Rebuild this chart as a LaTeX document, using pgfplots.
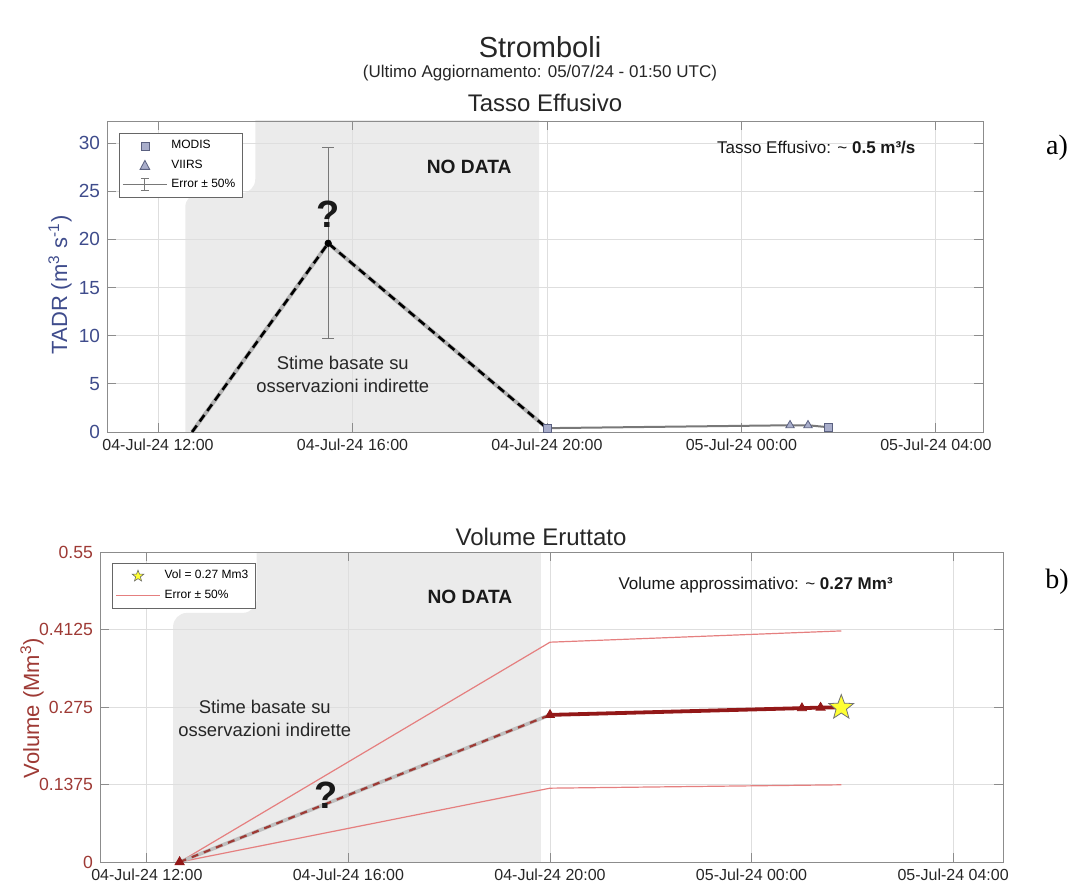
\documentclass[border=0pt]{standalone}
\usepackage{fontspec}
\setmainfont{Liberation Sans}
\newfontfamily\seriffont{Liberation Serif}
\usepackage{pgfplots}
\pgfplotsset{compat=1.18}
\usetikzlibrary{plotmarks}
\definecolor{tadrblue}{HTML}{3F4C8C}
\definecolor{volred}{HTML}{9E3A35}
\definecolor{errred}{HTML}{E57F7F}
\definecolor{thickred}{HTML}{931818}
\definecolor{shadegray}{HTML}{EBEBEB}
\definecolor{gridgray}{HTML}{DEDEDE}
\definecolor{axgray}{HTML}{8C8C8C}
\definecolor{linegray}{HTML}{787878}
\definecolor{modisfill}{HTML}{A9AECB}
\definecolor{modisdraw}{HTML}{5A6080}
\definecolor{staryellow}{HTML}{FFFF33}
\pgfdeclareplotmark{fstar}{%
  \pgfpathmoveto{\pgfpointpolar{90}{\pgfplotmarksize}}%
  \pgfpathlineto{\pgfpointpolar{126}{0.42\pgfplotmarksize}}%
  \pgfpathlineto{\pgfpointpolar{162}{\pgfplotmarksize}}%
  \pgfpathlineto{\pgfpointpolar{198}{0.42\pgfplotmarksize}}%
  \pgfpathlineto{\pgfpointpolar{234}{\pgfplotmarksize}}%
  \pgfpathlineto{\pgfpointpolar{270}{0.42\pgfplotmarksize}}%
  \pgfpathlineto{\pgfpointpolar{306}{\pgfplotmarksize}}%
  \pgfpathlineto{\pgfpointpolar{342}{0.42\pgfplotmarksize}}%
  \pgfpathlineto{\pgfpointpolar{18}{\pgfplotmarksize}}%
  \pgfpathlineto{\pgfpointpolar{54}{0.42\pgfplotmarksize}}%
  \pgfpathclose\pgfusepathqfillstroke}
\pgfplotsset{mystyle/.style={
  scale only axis, set layers,
  axis line style={draw=axgray},
  tick style={axgray, thin},
  major tick length=4.5pt,
  tick align=inside,
  xtick={12,16,20,24,28},
  xticklabels={04-Jul-24 12:00,04-Jul-24 16:00,04-Jul-24 20:00,05-Jul-24 00:00,05-Jul-24 04:00},
  grid=major, grid style={gridgray, line width=0.4pt},
  x tick label style={font=\fontsize{8}{9}\selectfont, text=black!85},
  /pgf/number format/assume math mode=true,
  legend cell align=left,
  legend style={font=\fontsize{6}{7}\selectfont, draw=black!60, fill=white, inner sep=1.5pt, row sep=0pt},
}}
\begin{document}
\begin{tikzpicture}
% titles
\node[font=\fontsize{14.5}{16}\selectfont, text=black!85] at (270pt,422pt) {Stromboli};
\node[font=\fontsize{8.5}{10}\selectfont, text=black!85] at (270pt,409pt) {(Ultimo Aggiornamento: 05/07/24 - 01:50 UTC)};
\node[font=\fontsize{12}{14}\selectfont, text=black!85] at (272.5pt,394pt) {Tasso Effusivo};
\node[font=\fontsize{12}{14}\selectfont, text=black!85] at (270.5pt,177pt) {Volume Eruttato};
\node[font=\seriffont\fontsize{14}{16}\selectfont] at (528.5pt,371.5pt) {a)};
\node[font=\seriffont\fontsize{14}{16}\selectfont] at (528.5pt,154.5pt) {b)};
\node[rotate=90, text=tadrblue, font=\fontsize{11}{12}\selectfont] at (30pt,303pt) {TADR (m\textsuperscript{3} s\textsuperscript{-1})};
\node[rotate=90, text=volred, font=\fontsize{11}{12}\selectfont] at (16pt,91.5pt) {Volume (Mm\textsuperscript{3})};

% ---------- top axis ----------
\begin{axis}[mystyle,
  at={(53.5pt,229.5pt)}, anchor=south west,
  width=438pt, height=155.5pt,
  xmin=10.95, xmax=28.97, ymin=0, ymax=32.3,
  ytick={0,5,10,15,20,25,30},
  y tick label style={font=\fontsize{9.5}{10}\selectfont, text=tadrblue},
  legend style={at={(0.0137,0.961)}, anchor=north west},
]
\begin{pgfonlayer}{axis background}
\begin{scope}
\clip (rel axis cs:0,0) rectangle (rel axis cs:1,1);
\fill[shadegray, rounded corners=7pt] (axis cs:12.56,-3) -- (axis cs:12.56,24.8) -- (axis cs:14.0,24.8) -- (axis cs:14.0,36) -- (axis cs:19.84,36) -- (axis cs:19.84,-3) -- cycle;
\end{scope}
\end{pgfonlayer}
\addlegendimage{legend image code/.code={\filldraw[draw=modisdraw, fill=modisfill, line width=0.4pt] (9pt,-2pt) rectangle (13pt,2pt);}}
\addlegendentry{MODIS}
\addlegendimage{legend image code/.code={\filldraw[draw=modisdraw, fill=modisfill, line width=0.4pt] (11pt,2.6pt) -- (8.6pt,-1.9pt) -- (13.4pt,-1.9pt) -- cycle;}}
\addlegendentry{VIIRS}
\addlegendimage{legend image code/.code={\draw[linegray, line width=0.5pt] (0pt,0pt) -- (22pt,0pt); \draw[linegray, line width=0.5pt] (11pt,-3pt) -- (11pt,3pt); \draw[linegray, line width=0.5pt] (9pt,3pt) -- (13pt,3pt); \draw[linegray, line width=0.5pt] (9pt,-3pt) -- (13pt,-3pt);}}
\addlegendentry{Error ± 50\%}
% error bar
\addplot[linegray, line width=0.5pt, mark=none, forget plot,
  error bars/.cd, y dir=both, y explicit,
  error bar style={linegray, line width=0.5pt},
  error mark options={rotate=90, mark size=3pt, linegray, line width=0.5pt}]
  coordinates {(15.5,19.6) +- (0,9.9)};
% dashed estimate
\addplot[black!30, line width=2pt, forget plot] coordinates {(12.7,0) (15.5,19.6) (20,0.4)};
\addplot[black, line width=1.3pt, dash pattern=on 4pt off 2.5pt, forget plot] coordinates {(12.7,0) (15.5,19.6) (20,0.4)};
\addplot[only marks, mark=*, mark size=1.6pt, black, forget plot] coordinates {(15.5,19.6)};
% observed
\addplot[linegray, line width=1pt, forget plot] coordinates {(20,0.4) (25.0,0.7) (25.37,0.7) (25.78,0.5)};
\addplot[only marks, mark=square*, mark size=2pt, mark options={draw=modisdraw, fill=modisfill, line width=0.4pt}, forget plot] coordinates {(20,0.4) (25.78,0.5)};
\addplot[only marks, mark=triangle*, mark size=2.4pt, mark options={draw=modisdraw, fill=modisfill, line width=0.4pt}, forget plot] coordinates {(25.0,0.7) (25.37,0.7)};
% annotations
\node[font=\bfseries\fontsize{9.6}{11}\selectfont, text=black!90] at (axis cs:18.4,27.5) {NO DATA};
\node[font=\bfseries\fontsize{19}{20}\selectfont, text=black!90] at (axis cs:15.5,22.6) {?};
\node[font=\fontsize{9.2}{11.5}\selectfont, text=black!85, align=center] at (axis cs:15.8,6.0) {Stime basate su\\osservazioni indirette};
\node[font=\fontsize{8.5}{10}\selectfont, text=black!90] at (axis cs:25.54,29.5) {Tasso Effusivo: \textasciitilde\ \textbf{0.5 m³/s}};
\end{axis}

% ---------- bottom axis ----------
\begin{axis}[mystyle,
  at={(50pt,14.5pt)}, anchor=south west,
  width=451.5pt, height=155pt,
  xmin=11.07, xmax=28.99, ymin=0, ymax=0.55,
  ytick={0,0.1375,0.275,0.4125,0.55},
  yticklabels={0,0.1375,0.275,0.4125,0.55},
  y tick label style={font=\fontsize{8.8}{10}\selectfont, text=volred},
  legend style={at={(0.0133,0.965)}, anchor=north west},
]
\begin{pgfonlayer}{axis background}
\begin{scope}
\clip (rel axis cs:0,0) rectangle (rel axis cs:1,1);
\fill[shadegray, rounded corners=7pt] (axis cs:12.52,-0.05) -- (axis cs:12.52,0.442) -- (axis cs:14.18,0.442) -- (axis cs:14.18,0.6) -- (axis cs:19.82,0.6) -- (axis cs:19.82,-0.05) -- cycle;
\end{scope}
\end{pgfonlayer}
\addlegendimage{legend image code/.code={\draw[mark=fstar, mark size=3pt, mark options={fill=staryellow, draw=black!60, line width=0.3pt}] plot coordinates {(11pt,0pt)};}}
\addlegendentry{Vol = 0.27 Mm3}
\addlegendimage{legend image code/.code={\draw[errred, line width=0.6pt] (0pt,0pt) -- (22pt,0pt);}}
\addlegendentry{Error ± 50\%}
% error envelope
\addplot[errred, line width=0.6pt, forget plot] coordinates {(12.65,0) (20,0.39) (25.78,0.41)};
\addplot[errred, line width=0.6pt, forget plot] coordinates {(12.65,0) (20,0.131) (25.78,0.137)};
% estimate
\addplot[black!25, line width=1.8pt, forget plot] coordinates {(12.65,0) (20,0.261)};
\addplot[volred, line width=1.1pt, dash pattern=on 3.5pt off 3pt, forget plot] coordinates {(12.65,0) (20,0.261)};
% observed cumulative
\addplot[thickred, line width=1.9pt, forget plot] coordinates {(20,0.261) (25.0,0.273) (25.37,0.274) (25.78,0.274)};
\addplot[only marks, mark=triangle*, mark size=2.6pt, mark options={draw=thickred, fill=thickred}, forget plot] coordinates {(12.65,0) (20,0.261) (25.0,0.273) (25.37,0.274)};
\addplot[only marks, mark=fstar, mark size=6.5pt, mark options={fill=staryellow, draw=black!55, line width=0.4pt}, forget plot] coordinates {(25.78,0.274)};
% annotations
\node[font=\bfseries\fontsize{9.6}{11}\selectfont, text=black!90] at (axis cs:18.41,0.470) {NO DATA};
\node[font=\bfseries\fontsize{19}{20}\selectfont, text=black!90] at (axis cs:15.56,0.119) {?};
\node[font=\fontsize{9.2}{11.5}\selectfont, text=black!85, align=center] at (axis cs:14.34,0.255) {Stime basate su\\osservazioni indirette};
\node[font=\fontsize{8.5}{10}\selectfont, text=black!90] at (axis cs:24.08,0.491) {Volume approssimativo: \textasciitilde\ \textbf{0.27 Mm³}};
\end{axis}
\pgfresetboundingbox
\path (0pt,0pt) rectangle (539.5pt,445.5pt);
\end{tikzpicture}
\end{document}
